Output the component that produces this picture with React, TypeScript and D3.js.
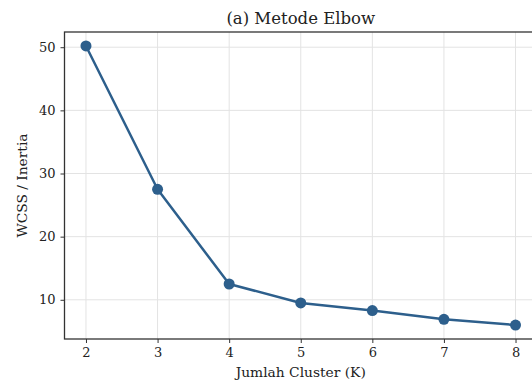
// Elbow method chart: WCSS vs number of clusters
import { useEffect, useRef } from "react"
import * as d3 from "d3"

const clusters = [2, 3, 4, 5, 6, 7, 8]
const wcss = [50.2, 27.5, 12.5, 9.5, 8.3, 6.9, 6.0]
const yTicks = [10, 20, 30, 40, 50]

const WIDTH = 532
const HEIGHT = 383
const LINE_COLOR = "#2d5f8c"
const FONT = "'DejaVu Serif', serif"

export default function App() {
  const svgRef = useRef<SVGSVGElement>(null)

  useEffect(() => {
    if (!svgRef.current) return
    const svg = d3.select(svgRef.current)
    svg.selectAll("*").remove()

    const margin = { top: 32, right: -5, bottom: 44, left: 64.5 }
    const innerWidth = WIDTH - margin.left - margin.right
    const innerHeight = HEIGHT - margin.top - margin.bottom

    // matplotlib-style 5% margins around data
    const xPad = (d3.max(clusters)! - d3.min(clusters)!) * 0.05
    const x = d3.scaleLinear()
      .domain([d3.min(clusters)! - xPad, d3.max(clusters)! + xPad])
      .range([0, innerWidth])
    const yPad = (d3.max(wcss)! - d3.min(wcss)!) * 0.05
    const y = d3.scaleLinear()
      .domain([d3.min(wcss)! - yPad, d3.max(wcss)! + yPad])
      .range([innerHeight, 0])

    svg.append("rect").attr("width", WIDTH).attr("height", HEIGHT).attr("fill", "#fff")

    const g = svg.append("g").attr("transform", `translate(${margin.left},${margin.top})`)

    // Grid
    g.append("g")
      .selectAll("line")
      .data(clusters)
      .join("line")
      .attr("x1", d => x(d)).attr("x2", d => x(d))
      .attr("y1", 0).attr("y2", innerHeight)
      .attr("stroke", "#e3e3e3").attr("stroke-width", 1)
    g.append("g")
      .selectAll("line")
      .data(yTicks)
      .join("line")
      .attr("x1", 0).attr("x2", innerWidth)
      .attr("y1", d => y(d)).attr("y2", d => y(d))
      .attr("stroke", "#e3e3e3").attr("stroke-width", 1)

    // Axes
    const xAxis = g.append("g")
      .attr("transform", `translate(0,${innerHeight})`)
      .call(d3.axisBottom(x).tickValues(clusters).tickFormat(d3.format("d")).tickSize(4).tickPadding(5))
    const yAxis = g.append("g")
      .call(d3.axisLeft(y).tickValues(yTicks).tickFormat(d3.format("d")).tickSize(4).tickPadding(5))
    for (const ax of [xAxis, yAxis]) {
      ax.select(".domain").remove()
      ax.selectAll("line").attr("stroke", "#333").attr("stroke-width", 1)
      ax.selectAll("text")
        .attr("fill", "#222")
        .attr("font-size", "13px")
        .attr("font-family", FONT)
    }

    // Spines
    g.append("rect")
      .attr("width", innerWidth).attr("height", innerHeight)
      .attr("fill", "none").attr("stroke", "#333").attr("stroke-width", 1.3)

    // Line + markers
    const pts = clusters.map((k, i) => [k, wcss[i]] as [number, number])
    g.append("path")
      .datum(pts)
      .attr("d", d3.line<[number, number]>().x(d => x(d[0])).y(d => y(d[1])))
      .attr("fill", "none")
      .attr("stroke", LINE_COLOR)
      .attr("stroke-width", 2.5)
      .attr("stroke-linejoin", "round")
    g.append("g")
      .selectAll("circle")
      .data(pts)
      .join("circle")
      .attr("cx", d => x(d[0]))
      .attr("cy", d => y(d[1]))
      .attr("r", 5.5)
      .attr("fill", LINE_COLOR)

    // Labels
    svg.append("text")
      .attr("x", margin.left + innerWidth / 2).attr("y", 24)
      .attr("text-anchor", "middle")
      .attr("font-family", FONT).attr("font-size", "16.5px").attr("fill", "#222")
      .text("(a) Metode Elbow")
    svg.append("text")
      .attr("x", margin.left + innerWidth / 2).attr("y", 377)
      .attr("text-anchor", "middle")
      .attr("font-family", FONT).attr("font-size", "13.8px").attr("fill", "#222")
      .text("Jumlah Cluster (K)")
    svg.append("text")
      .attr("transform", `translate(27,${margin.top + innerHeight / 2}) rotate(-90)`)
      .attr("text-anchor", "middle")
      .attr("font-family", FONT).attr("font-size", "13.8px").attr("fill", "#222")
      .text("WCSS / Inertia")
  }, [])

  return (
    <svg
      ref={svgRef}
      width={WIDTH}
      height={HEIGHT}
      style={{ position: "absolute", left: 0, top: 0, display: "block" }}
    />
  )
}
